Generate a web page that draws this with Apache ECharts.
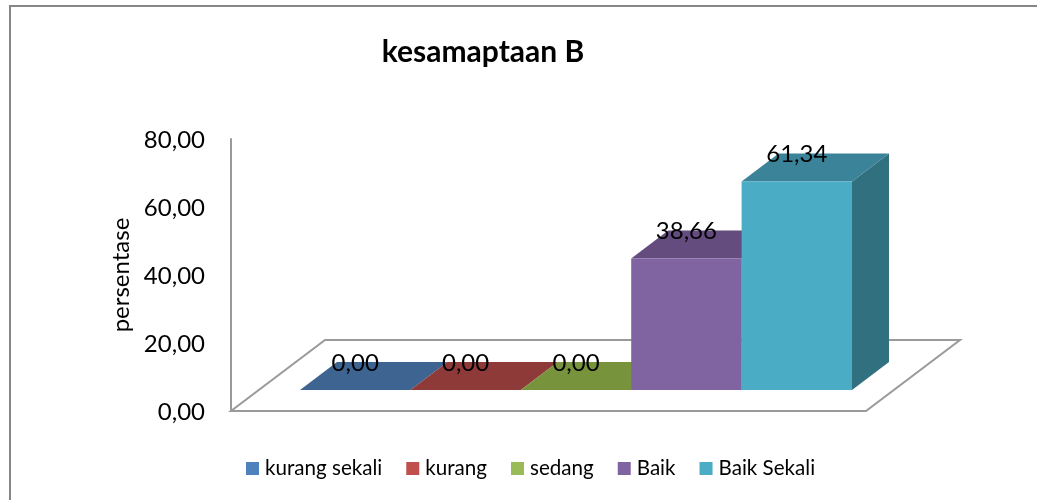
<!DOCTYPE html>
<html>
<head>
<meta charset="utf-8">
<style>
  html, body { margin: 0; padding: 0; background: #fff; }
  #chart { width: 1037px; height: 500px; }
</style>
<script src="https://cdn.jsdelivr.net/npm/echarts@6/dist/echarts.min.js"></script>
</head>
<body>
<div id="chart"></div>
<script>
const categories = ['kurang sekali', 'kurang', 'sedang', 'Baik', 'Baik Sekali']
const values = [0, 0, 0, 38.66, 61.34]
const frontColors = ['#4F81BD', '#C0504D', '#9BBB59', '#8064A2', '#4BACC6']
const topColors = ['#3E6491', '#8E3A38', '#77933C', '#644C7E', '#3A8398']
const sideColors = ['#325274', '#73302E', '#617A31', '#523F68', '#31707F']
const yTicks = [0, 20, 40, 60, 80]

const fontFamily = 'Lato, "Open Sans", sans-serif'
const barDepth = [37, -28]
const floorDepth = [94, -71]
const formatNumber = v => v.toFixed(2).replace('.', ',')

function renderFloor(params, api) {
  const rect = params.coordSys
  const bottom = api.coord([0, 0])[1]
  const x0 = rect.x
  const x1 = rect.x + rect.width
  return {
    type: 'polygon',
    shape: {
      points: [
        [x0, bottom],
        [x1, bottom],
        [x1 + floorDepth[0], bottom + floorDepth[1]],
        [x0 + floorDepth[0], bottom + floorDepth[1]]
      ]
    },
    style: { fill: '#fff', stroke: '#9A9A9A', lineWidth: 2 }
  }
}

function renderBar(index) {
  return function(params, api) {
    const band = api.size([1, 0])[0]
    const center = api.coord([api.value(0), 0])[0]
    const base = api.coord([api.value(0), 0])[1]
    const top = api.coord([api.value(0), api.value(1)])[1]
    const left = center - band / 2
    const right = center + band / 2
    const dx = barDepth[0]
    const dy = barDepth[1]
    return {
      type: 'group',
      children: [
        {
          type: 'polygon',
          shape: { points: [[right, top], [right + dx, top + dy], [right + dx, base + dy], [right, base]] },
          style: { fill: sideColors[index] }
        },
        {
          type: 'polygon',
          shape: { points: [[left, top], [right, top], [right + dx, top + dy], [left + dx, top + dy]] },
          style: { fill: topColors[index] }
        },
        {
          type: 'rect',
          shape: { x: left, y: top, width: band, height: base - top },
          style: { fill: frontColors[index] }
        },
        {
          type: 'text',
          z2: 100,
          style: {
            x: center,
            y: top + dy + 1,
            text: formatNumber(api.value(1)),
            align: 'center',
            verticalAlign: 'middle',
            fill: '#000',
            font: '24px ' + fontFamily
          }
        }
      ]
    }
  }
}

const chart = echarts.init(document.getElementById('chart'))
chart.setOption({
  animation: false,
  backgroundColor: '#fff',
  textStyle: { fontFamily: fontFamily },
  title: {
    text: 'kesamaptaan B',
    left: 478,
    top: 32,
    textAlign: 'center',
    textStyle: { fontSize: 30, fontWeight: 'bold', color: '#000', fontFamily: fontFamily }
  },
  legend: {
    data: categories,
    left: 246,
    top: 458,
    icon: 'rect',
    itemWidth: 13,
    itemHeight: 13,
    itemGap: 24,
    padding: 0,
    textStyle: { fontSize: 20.6, color: '#000', padding: [0, 0, 0, 1] }
  },
  graphic: [{
    type: 'rect',
    shape: { x: 10, y: 6, width: 1100, height: 600 },
    style: { fill: 'none', stroke: '#868686', lineWidth: 2 },
    silent: true
  }],
  grid: [
    { left: 231, top: 139, width: 635, height: 272 },
    { left: 300, top: 118, width: 552, height: 272 }
  ],
  xAxis: [
    { type: 'category', gridIndex: 0, data: categories, show: false },
    { type: 'category', gridIndex: 1, data: categories, show: false }
  ],
  yAxis: [
    {
      type: 'value',
      gridIndex: 0,
      min: yTicks[0],
      max: yTicks[yTicks.length - 1],
      interval: yTicks[1] - yTicks[0],
      name: 'persentase',
      nameLocation: 'middle',
      nameGap: 97,
      nameTextStyle: { fontSize: 24, color: '#000' },
      axisLine: { show: true, lineStyle: { color: '#9A9A9A', width: 2 } },
      axisTick: { show: false },
      splitLine: { show: false },
      axisLabel: { fontSize: 24, color: '#000', margin: 26, verticalAlign: 'top', lineHeight: 3, formatter: formatNumber }
    },
    { type: 'value', gridIndex: 1, min: yTicks[0], max: yTicks[yTicks.length - 1], show: false }
  ],
  series: [
    {
      type: 'custom',
      name: 'floor',
      xAxisIndex: 0,
      yAxisIndex: 0,
      silent: true,
      z: 1,
      renderItem: renderFloor,
      data: [[0, 0]]
    }
  ].concat(categories.map((name, i) => ({
    type: 'custom',
    name: name,
    xAxisIndex: 1,
    yAxisIndex: 1,
    z: 2,
    itemStyle: { color: frontColors[i] },
    renderItem: renderBar(i),
    data: [[i, values[i]]]
  })))
})
</script>
</body>
</html>
